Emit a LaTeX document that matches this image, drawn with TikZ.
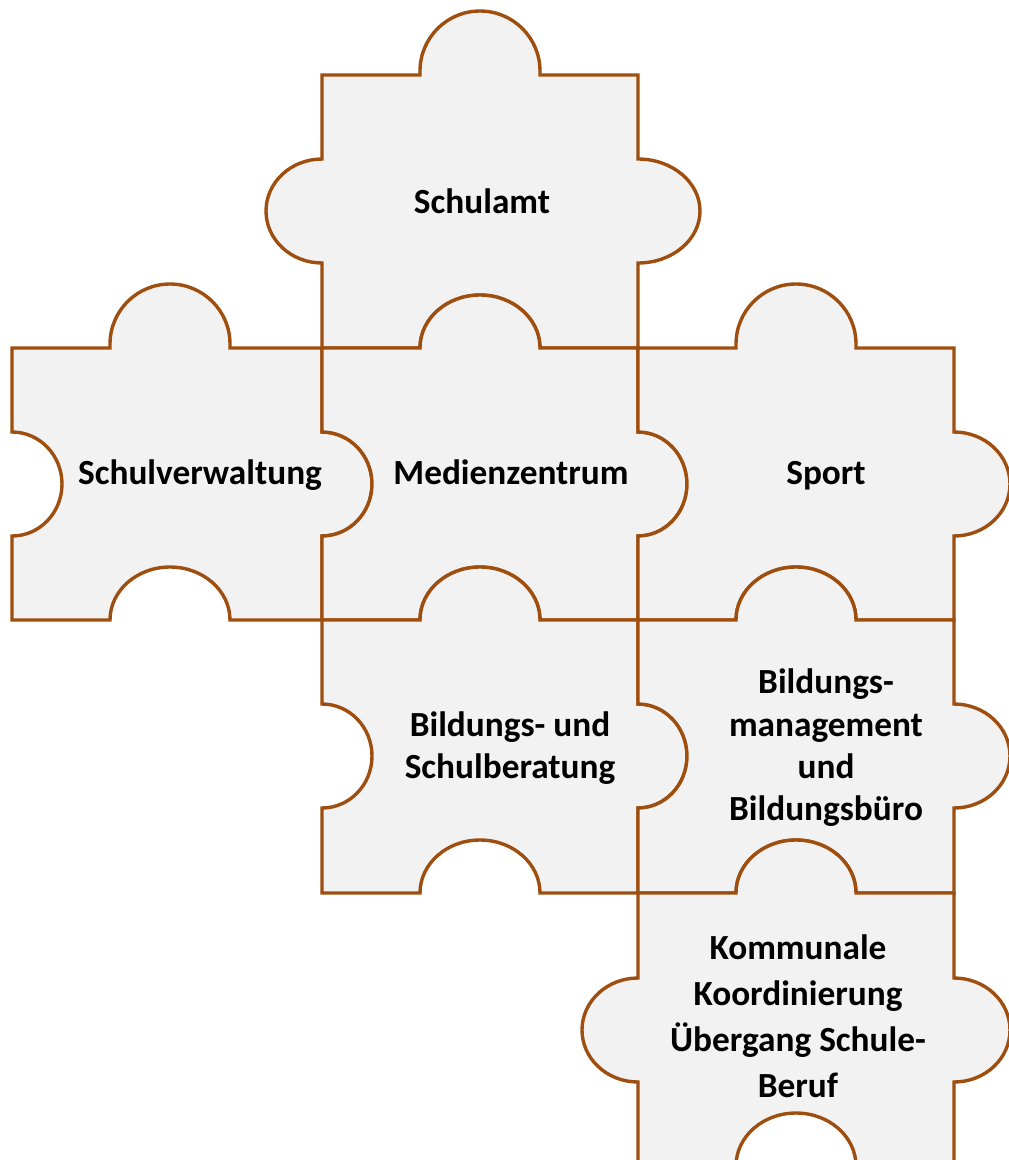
\documentclass[tikz,border=0pt]{standalone}
\usepackage{fontspec}
\setmainfont{Carlito}
\definecolor{edgebrown}{RGB}{158,78,14}
\definecolor{piecefill}{RGB}{242,242,242}
\begin{document}
\begin{tikzpicture}[x=1pt,y=1pt,yscale=-1,
  piece/.style={fill=piecefill, draw=edgebrown, line width=3.4pt, line join=miter},
  ptext/.style={font=\bfseries\fontsize{35.3}{42}\selectfont, align=center, inner sep=0pt, text=black}]
\useasboundingbox (0,0) rectangle (1009,1160);
\clip (0,0) rectangle (1009,1160);
% Schulamt
\draw[piece] (322,75) -- (420,75) -- (420,71)
  arc[start angle=180,end angle=360,x radius=60pt,y radius=60pt] -- (540,75) -- (638,75) -- (638,159)
  arc[start angle=-90,end angle=90,x radius=62pt,y radius=52pt] -- (638,348) -- (540,348)
  arc[start angle=0,end angle=-180,x radius=60pt,y radius=53pt] -- (322,348) -- (322,263)
  arc[start angle=90,end angle=270,x radius=56pt,y radius=52pt] -- cycle;
% Schulverwaltung
\draw[piece] (12,348) -- (110,348) -- (110,344)
  arc[start angle=180,end angle=360,x radius=60pt,y radius=60pt] -- (230,348) -- (322,348) -- (322,432)
  arc[start angle=-90,end angle=90,x radius=50pt,y radius=52pt] -- (322,620) -- (230,620)
  arc[start angle=0,end angle=-180,x radius=60pt,y radius=53pt] -- (12,620) -- (12,536)
  arc[start angle=90,end angle=-90,x radius=50pt,y radius=52pt] -- cycle;
% Medienzentrum
\draw[piece] (322,348) -- (420,348)
  arc[start angle=180,end angle=360,x radius=60pt,y radius=53pt] -- (638,348) -- (638,432)
  arc[start angle=-90,end angle=90,x radius=49pt,y radius=52pt] -- (638,620) -- (540,620)
  arc[start angle=0,end angle=-180,x radius=60pt,y radius=53pt] -- (322,620) -- (322,536)
  arc[start angle=90,end angle=-90,x radius=50pt,y radius=52pt] -- cycle;
% Sport
\draw[piece] (638,348) -- (736,348) -- (736,344)
  arc[start angle=180,end angle=360,x radius=60pt,y radius=60pt] -- (856,348) -- (954,348) -- (954,432)
  arc[start angle=-90,end angle=90,x radius=56pt,y radius=52pt] -- (954,620) -- (856,620)
  arc[start angle=0,end angle=-180,x radius=60pt,y radius=53pt] -- (638,620) -- (638,536)
  arc[start angle=90,end angle=-90,x radius=49pt,y radius=52pt] -- cycle;
% Bildungs- und Schulberatung
\draw[piece] (322,620) -- (420,620)
  arc[start angle=180,end angle=360,x radius=60pt,y radius=53pt] -- (638,620) -- (638,704)
  arc[start angle=-90,end angle=90,x radius=49pt,y radius=52pt] -- (638,893) -- (540,893)
  arc[start angle=0,end angle=-180,x radius=60pt,y radius=53pt] -- (322,893) -- (322,808)
  arc[start angle=90,end angle=-90,x radius=50pt,y radius=52pt] -- cycle;
% Bildungsmanagement
\draw[piece] (638,620) -- (736,620)
  arc[start angle=180,end angle=360,x radius=60pt,y radius=53pt] -- (954,620) -- (954,704)
  arc[start angle=-90,end angle=90,x radius=56pt,y radius=52pt] -- (954,893) -- (856,893)
  arc[start angle=0,end angle=-180,x radius=60pt,y radius=53pt] -- (638,893) -- (638,808)
  arc[start angle=90,end angle=-90,x radius=49pt,y radius=52pt] -- cycle;
% Kommunale Koordinierung
\draw[piece] (638,893) -- (736,893)
  arc[start angle=180,end angle=360,x radius=60pt,y radius=53pt] -- (954,893) -- (954,978)
  arc[start angle=-90,end angle=90,x radius=56pt,y radius=52pt] -- (954,1166) -- (856,1166)
  arc[start angle=0,end angle=-180,x radius=60pt,y radius=53pt] -- (638,1166) -- (638,1082)
  arc[start angle=90,end angle=270,x radius=56pt,y radius=52pt] -- cycle;
% Texts
\node[ptext, anchor=base] (schulamt) at (482,213) {Schulamt};
\node[ptext, anchor=base] (schulverw) at (200,484) {Schulverwaltung};
\node[ptext, anchor=base] (medien) at (511,484) {Medienzentrum};
\node[ptext, anchor=base] (sport) at (826,484) {Sport};
\node[ptext] (beratung) at (510,748) {Bildungs- und\\Schulberatung};
\node[ptext, font=\bfseries\fontsize{35.3}{42.3}\selectfont] (management) at (826,748) {Bildungs-\\management\\und\\Bildungsbüro};
\node[ptext, font=\bfseries\fontsize{35.3}{46}\selectfont] (kommunal) at (798,1016) {Kommunale\\Koordinierung\\Übergang Schule-\\Beruf};
\end{tikzpicture}
\end{document}
